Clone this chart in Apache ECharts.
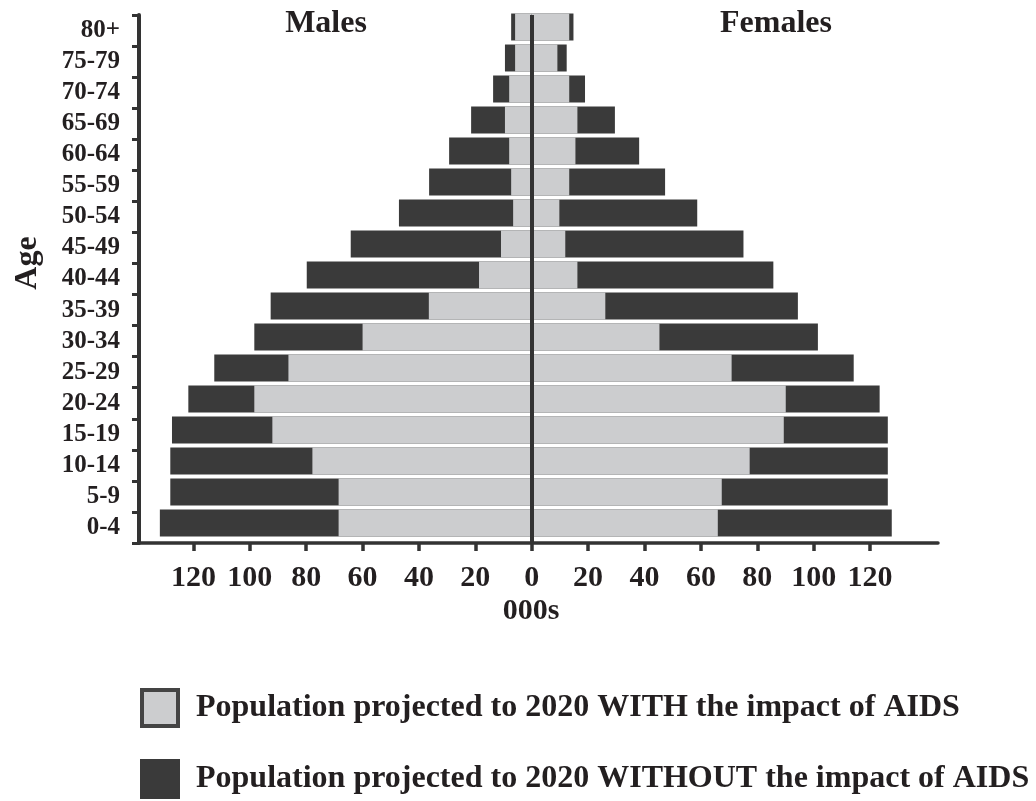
<!DOCTYPE html>
<html>
<head>
<meta charset="utf-8">
<title>Population pyramid 2020</title>
<script src="https://cdn.jsdelivr.net/npm/echarts@6/dist/echarts.min.js"></script>
<style>
  html, body { margin: 0; padding: 0; background: #fff; }
  #chart { width: 1036px; height: 801px; }
</style>
</head>
<body>
<div id="chart"></div>
<script>
// age groups, bottom to top
const ageGroups = ["0-4", "5-9", "10-14", "15-19", "20-24", "25-29", "30-34", "35-39",
  "40-44", "45-49", "50-54", "55-59", "60-64", "65-69", "70-74", "75-79", "80+"];

// thousands
const maleWithout = [131.9, 128.2, 128.2, 127.6, 121.8, 112.6, 98.4, 92.6, 79.8, 64.2, 47.1, 36.4, 29.3, 21.5, 13.7, 9.5, 7.3];
const maleWith = [68.5, 68.5, 77.8, 92.0, 98.4, 86.3, 60.0, 36.5, 18.7, 10.9, 6.6, 7.3, 8.0, 9.5, 8.0, 5.9, 5.9];
const femaleWithout = [127.7, 126.3, 126.3, 126.3, 123.4, 114.2, 101.5, 94.4, 85.7, 75.1, 58.7, 47.3, 38.1, 29.5, 18.9, 12.4, 14.8];
const femaleWith = [66.0, 67.4, 77.3, 89.4, 90.1, 70.9, 45.3, 26.1, 16.2, 11.9, 9.8, 13.3, 15.5, 16.2, 13.3, 9.1, 13.3];

const xTicks = [-120, -100, -80, -60, -40, -20, 0, 20, 40, 60, 80, 100, 120];

const WITH_NAME = "Population projected to 2020 WITH the impact of AIDS";
const WITHOUT_NAME = "Population projected to 2020 WITHOUT the impact of AIDS";

const FONT = "'Liberation Serif', 'Times New Roman', serif";
const DARK = "#3a3a3a";
const LIGHT = "#cccdcf";
const INK = "#231f20";
const X_MIN = -139.3;
const X_MAX = 144.1;

const chart = echarts.init(document.getElementById("chart"));

const neg = arr => arr.map(v => -v);

// one legend box per row, the original stacks them
const legendRow = (name, top, style) => ({
  left: 135,
  top: top,
  itemWidth: 36,
  itemHeight: 36,
  icon: "rect",
  selectedMode: false,
  data: [{ name: name, itemStyle: style }],
  textStyle: { color: INK, fontFamily: FONT, fontWeight: "bold", fontSize: 32, padding: [0, 0, 0, 13] }
});

chart.setOption({
  animation: false,
  backgroundColor: "#fff",
  grid: [
    // bars sit a few px higher than the axis frame in the original
    { left: 139, right: 98, top: 11.5, bottom: 262.5 },
    { left: 139, right: 98, top: 15, bottom: 258 }
  ],
  xAxis: [
    { gridIndex: 0, type: "value", min: X_MIN, max: X_MAX, show: false },
    {
      gridIndex: 1, type: "value", min: X_MIN, max: X_MAX,
      splitLine: { show: false },
      axisLine: { show: true, lineStyle: { color: "#333", width: 3.5 } },
      axisTick: { show: true, customValues: xTicks, length: 8, lineStyle: { color: "#333", width: 3.5 } },
      axisLabel: {
        customValues: xTicks,
        formatter: v => Math.abs(v),
        margin: 20,
        color: INK, fontFamily: FONT, fontWeight: "bold", fontSize: 30
      }
    }
  ],
  yAxis: [
    { gridIndex: 0, type: "category", data: ageGroups, show: false },
    {
      gridIndex: 1, type: "category", data: ageGroups,
      axisLine: { onZero: false, lineStyle: { color: "#333", width: 4 } },
      axisTick: { show: true, length: 7, interval: 0, lineStyle: { color: "#333", width: 3 } },
      axisLabel: { interval: 0, margin: 19, color: INK, fontFamily: FONT, fontWeight: "bold", fontSize: 25 }
    }
  ],
  legend: [
    legendRow(WITH_NAME, 683, { color: LIGHT, borderColor: "#444", borderWidth: 4 }),
    legendRow(WITHOUT_NAME, 754, { color: DARK, borderColor: DARK, borderWidth: 4 })
  ],
  graphic: [
    { type: "text", x: 326, y: 24, style: { text: "Males", fill: INK, font: "bold 32px " + FONT, textAlign: "center", textVerticalAlign: "middle" } },
    { type: "text", x: 776, y: 24, style: { text: "Females", fill: INK, font: "bold 32px " + FONT, textAlign: "center", textVerticalAlign: "middle" } },
    { type: "text", x: 28, y: 263, rotation: Math.PI / 2, style: { text: "Age", fill: INK, font: "bold 32px " + FONT, textAlign: "center", textVerticalAlign: "middle" } },
    { type: "text", x: 531, y: 611, style: { text: "000s", fill: INK, font: "bold 30px " + FONT, textAlign: "center", textVerticalAlign: "middle" } }
  ],
  series: [
    { name: WITHOUT_NAME, type: "bar", xAxisIndex: 0, yAxisIndex: 0, data: neg(maleWithout), barWidth: "87%", barGap: "-100%", itemStyle: { color: DARK } },
    { name: WITH_NAME, type: "bar", xAxisIndex: 0, yAxisIndex: 0, data: neg(maleWith), barWidth: "87%", barGap: "-100%", itemStyle: { color: LIGHT } },
    { name: WITHOUT_NAME, type: "bar", xAxisIndex: 0, yAxisIndex: 0, data: femaleWithout, barWidth: "87%", barGap: "-100%", itemStyle: { color: DARK } },
    { name: WITH_NAME, type: "bar", xAxisIndex: 0, yAxisIndex: 0, data: femaleWith, barWidth: "87%", barGap: "-100%", itemStyle: { color: LIGHT } },
    // centre line at zero
    {
      type: "line", xAxisIndex: 1, yAxisIndex: 1, data: [], silent: true, z: 5,
      markLine: {
        symbol: "none", silent: true, label: { show: false },
        lineStyle: { color: "#333", width: 4, type: "solid" },
        data: [{ xAxis: 0 }]
      }
    }
  ]
});

window.addEventListener("resize", () => chart.resize());
</script>
</body>
</html>
